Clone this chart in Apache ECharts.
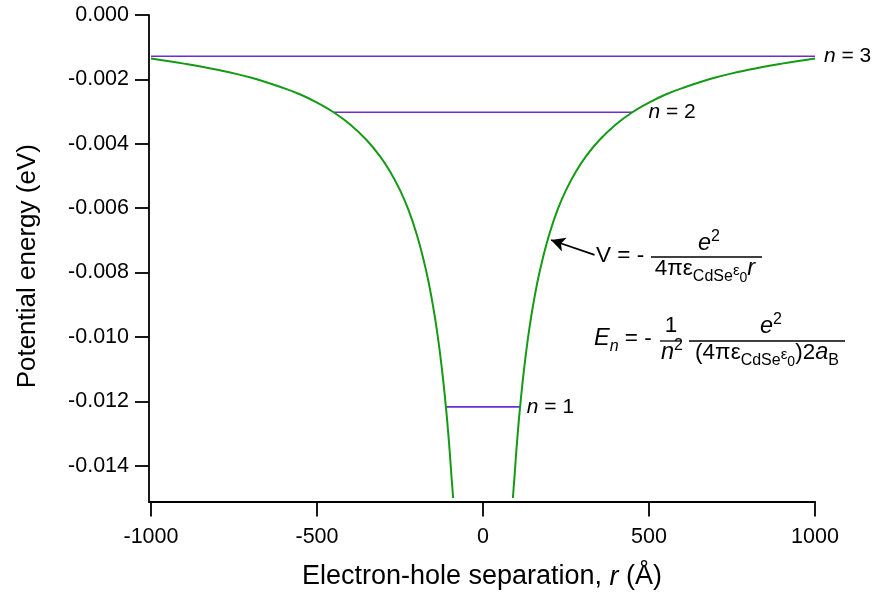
<!DOCTYPE html>
<html><head><meta charset="utf-8">
<script src="https://cdn.jsdelivr.net/npm/echarts@6/dist/echarts.min.js"></script>
<style>html,body{margin:0;padding:0;background:#fff}#c{width:877px;height:598px}</style>
</head><body><div id="c"></div>
<script>
// ---- data ----
const xTicks = [-1000, -500, 0, 500, 1000];
const yTicks = [0, -0.002, -0.004, -0.006, -0.008, -0.010, -0.012, -0.014];

// right branch of V(r)
const rightR = [90, 95, 100, 105, 110, 120, 130, 140, 150, 165, 180, 200, 225, 250, 280, 310, 350, 400, 450, 500, 550, 600, 700, 800, 900, 1000];
const rightV = [-0.0150, -0.01432, -0.0136, -0.01295, -0.01236, -0.01133, -0.01046, -0.00971, -0.00907, -0.00824, -0.00756, -0.0068, -0.00604, -0.00544, -0.00486, -0.00439, -0.00389, -0.0034, -0.00302, -0.00272, -0.00247, -0.00227, -0.00194, -0.0017, -0.00151, -0.00135];
// left branch of V(r)
const leftR = [-1000, -900, -800, -700, -600, -550, -500, -450, -400, -350, -310, -280, -250, -225, -200, -180, -165, -150, -140, -130, -120, -110, -105, -100, -95, -90];
const leftV = [-0.00135, -0.00151, -0.0017, -0.00194, -0.00227, -0.00247, -0.00272, -0.00302, -0.0034, -0.00389, -0.00439, -0.00486, -0.00544, -0.00604, -0.0068, -0.00756, -0.00824, -0.00907, -0.00971, -0.01046, -0.01133, -0.01236, -0.01295, -0.0136, -0.01432, -0.0150];

// energy levels
const levelN = [1, 2, 3];
const levelE = [-0.01217, -0.00302, -0.00128];
const levelStart = [-111, -450, -1000];
const levelEnd = [111, 450, 1000];

// ---- styling ----
const FONT = '"Liberation Sans", Arial, sans-serif';
const GREEN = '#159a15';
const PURPLE = '#6a2fd3';
const labelGap = [7, 16, 9];

const chart = echarts.init(document.getElementById('c'), null, {renderer: 'canvas'});

const curveStyle = {type: 'line', showSymbol: false, smooth: 0.4,
  lineStyle: {color: GREEN, width: 2}, silent: true, z: 3};
const seriesList = [];
seriesList.push(Object.assign({}, curveStyle, {data: leftR.map((r, i) => [r, leftV[i]])}));
seriesList.push(Object.assign({}, curveStyle, {
  data: rightR.map((r, i) => [r, rightV[i]]),
  markLine: {
    silent: true, symbol: ['none', 'arrow'], symbolSize: [11, 14],
    lineStyle: {color: '#000', width: 1.6, type: 'solid'}, label: {show: false},
    data: [[{coord: [336, -0.00745]}, {coord: [205, -0.00699]}]]
  }
}));
levelN.forEach((n, i) => {
  seriesList.push({
    type: 'line', data: [[levelStart[i], levelE[i]], [levelEnd[i], levelE[i]]],
    showSymbol: false, symbol: 'none', lineStyle: {color: PURPLE, width: 1.6}, silent: true, z: 2,
    endLabel: {
      show: true, distance: labelGap[i], formatter: '{i|n} = ' + n,
      fontFamily: FONT, fontSize: 21, color: '#000',
      rich: {i: {fontStyle: 'italic', fontFamily: FONT, fontSize: 21, color: '#000'}}
    }
  });
});

// ---- formula annotations (laid out with measured text widths) ----
const cv = document.createElement('canvas').getContext('2d');
function fnt(p) { return (p.it ? 'italic ' : '') + p.s + 'px ' + FONT; }
function width(pieces) { return pieces.reduce((a, p) => { cv.font = fnt(p); return a + cv.measureText(p.t).width; }, 0); }
const els = [];
function row(x0, base, pieces) {
  let x = x0;
  pieces.forEach(p => {
    cv.font = fnt(p);
    const w = cv.measureText(p.t).width;
    els.push({type: 'text', x: x, y: base + (p.dy || 0) - 0.35 * p.s,
      style: {text: p.t, font: fnt(p), fill: '#000', align: 'left', verticalAlign: 'middle'}});
    x += w;
  });
}
function centered(cx, base, pieces) { row(cx - width(pieces) / 2, base, pieces); }
function hline(x1, x2, y) {
  els.push({type: 'line', shape: {x1: x1, y1: y, x2: x2, y2: y}, style: {stroke: '#000', lineWidth: 1.3}});
}
const M = 22.5, S = 16, SS = 14;
// V = - e^2 / (4 pi eps_CdSe eps_0 r)
row(596, 264, [{t: 'V = -', s: M}]);
hline(651, 762, 257);
centered(709, 252, [{t: 'e', s: M + 1, it: 1}, {t: '2', s: S, dy: -10}]);
centered(705, 277, [{t: '4πε', s: M}, {t: 'CdSe', s: S, dy: 5}, {t: 'ε', s: S - 1, dy: -1}, {t: '0', s: SS, dy: 6}, {t: 'r', s: M + 1, it: 1}]);
// E_n = - 1/n^2 e^2/((4 pi eps_CdSe eps_0) 2 a_B)
row(594, 347, [{t: 'E', s: M + 1, it: 1}, {t: 'n', s: S, it: 1, dy: 5}, {t: ' = -', s: M}]);
hline(660, 682, 341);
centered(671, 334, [{t: '1', s: M}]);
centered(672, 361, [{t: 'n', s: M + 1, it: 1}, {t: '2', s: S, dy: -10}]);
hline(689, 845, 341);
centered(771, 335, [{t: 'e', s: M + 1, it: 1}, {t: '2', s: S, dy: -10}]);
centered(767, 361, [{t: '(4πε', s: M}, {t: 'CdSe', s: S, dy: 5}, {t: 'ε', s: S - 1, dy: -1}, {t: '0', s: SS, dy: 6}, {t: ')2', s: M}, {t: 'a', s: M + 1, it: 1}, {t: 'B', s: S, dy: 5}]);

const axisLineStyle = {color: '#000', width: 1.8};
chart.setOption({
  animation: false,
  backgroundColor: '#fff',
  grid: {left: 149, right: 62, top: 15, bottom: 96.5, containLabel: false},
  xAxis: {
    type: 'value', min: -1006, max: 1000,
    axisLine: {show: true, onZero: false, lineStyle: axisLineStyle},
    axisTick: {show: true, length: 15, inside: false, lineStyle: axisLineStyle, customValues: xTicks},
    axisLabel: {customValues: xTicks, fontFamily: FONT, fontSize: 21.5, color: '#000', margin: 25,
      formatter: v => String(v)},
    splitLine: {show: false},
    name: 'Electron-hole separation, {i|r} (Å)', nameLocation: 'middle', nameGap: 62,
    nameTextStyle: {fontFamily: FONT, fontSize: 27, color: '#000',
      rich: {i: {fontStyle: 'italic', fontFamily: FONT, fontSize: 27, color: '#000'}}}
  },
  yAxis: {
    type: 'value', min: -0.01511, max: 0,
    axisLine: {show: true, onZero: false, lineStyle: axisLineStyle},
    axisTick: {show: true, length: 14, inside: false, lineStyle: axisLineStyle, customValues: yTicks},
    axisLabel: {customValues: yTicks, fontFamily: FONT, fontSize: 21.5, color: '#000', margin: 20,
      formatter: v => v.toFixed(3)},
    splitLine: {show: false},
    name: 'Potential energy (eV)', nameLocation: 'middle', nameGap: 108,
    nameTextStyle: {fontFamily: FONT, fontSize: 26, color: '#000', padding: [0, 16, 0, 0]}
  },
  series: seriesList,
  graphic: els
});
</script>
</body></html>
